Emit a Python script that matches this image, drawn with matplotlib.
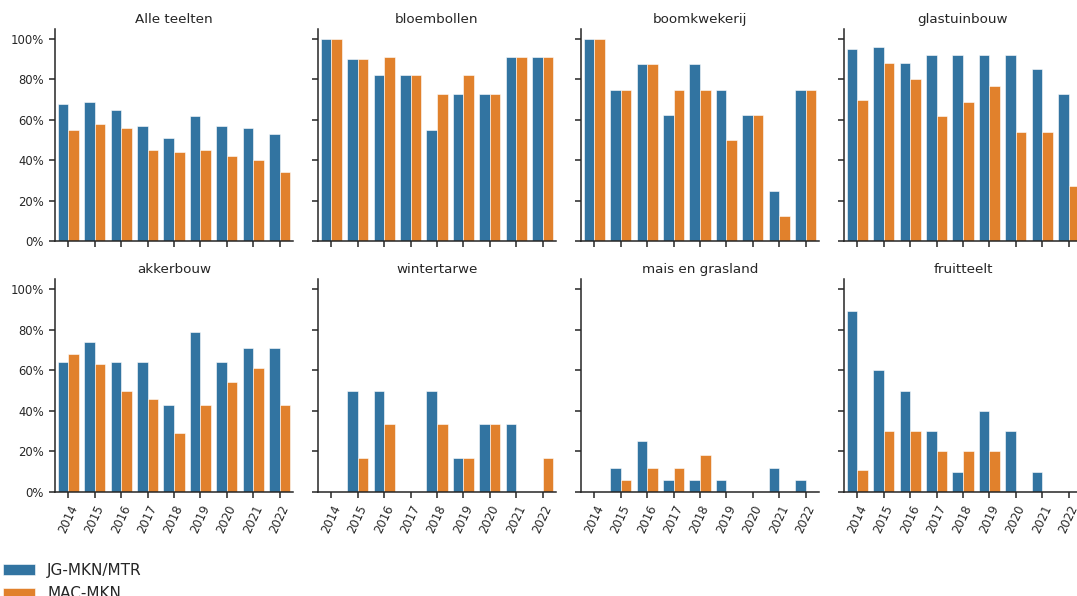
import matplotlib.pyplot as plt
import numpy as np
from matplotlib.ticker import PercentFormatter

years = ['2014', '2015', '2016', '2017', '2018', '2019', '2020', '2021', '2022']
teelten = ['Alle teelten', 'bloembollen', 'boomkwekerij', 'glastuinbouw',
           'akkerbouw', 'wintertarwe', 'mais en grasland', 'fruitteelt']
series = ['JG-MKN/MTR', 'MAC-MKN']

# percentage of sites exceeding the norm, per teelt
jg_alle = [68, 69, 65, 57, 51, 62, 57, 56, 53]
mac_alle = [55, 58, 56, 45, 44, 45, 42, 40, 34]
jg_bloembollen = [100, 90, 82, 82, 55, 73, 73, 91, 91]
mac_bloembollen = [100, 90, 91, 82, 73, 82, 73, 91, 91]
jg_boomkwekerij = [100, 75, 87.5, 62.5, 87.5, 75, 62.5, 25, 75]
mac_boomkwekerij = [100, 75, 87.5, 75, 75, 50, 62.5, 12.5, 75]
jg_glastuinbouw = [95, 96, 88, 92, 92, 92, 92, 85, 73]
mac_glastuinbouw = [70, 88, 80, 62, 69, 77, 54, 54, 27]
jg_akkerbouw = [64, 74, 64, 64, 43, 79, 64, 71, 71]
mac_akkerbouw = [68, 63, 50, 46, 29, 43, 54, 61, 43]
jg_wintertarwe = [0, 50, 50, 0, 50, 16.7, 33.3, 33.3, 0]
mac_wintertarwe = [0, 16.7, 33.3, 0, 33.3, 16.7, 33.3, 0, 16.7]
jg_mais = [0, 12, 25, 6, 6, 6, 0, 12, 6]
mac_mais = [0, 6, 12, 12, 18, 0, 0, 0, 0]
jg_fruit = [89, 60, 50, 30, 10, 40, 30, 10, 0]
mac_fruit = [11, 30, 30, 20, 20, 20, 0, 0, 0]

jg_all = [jg_alle, jg_bloembollen, jg_boomkwekerij, jg_glastuinbouw,
          jg_akkerbouw, jg_wintertarwe, jg_mais, jg_fruit]
mac_all = [mac_alle, mac_bloembollen, mac_boomkwekerij, mac_glastuinbouw,
           mac_akkerbouw, mac_wintertarwe, mac_mais, mac_fruit]

blue = '#3274a1'
orange = '#e1812c'
txt = '#262626'

W, H = 1077, 596
fig = plt.figure(figsize=(W / 100, H / 100), dpi=100)

col_left = [55, 318, 581, 844]
row_box = [(29, 241), (279, 492)]
ax_w = 238

x = np.arange(len(years))
bw = 0.4
axes = []
for i, name in enumerate(teelten):
    r, c = divmod(i, 4)
    top, bot = row_box[r]
    ax = fig.add_axes([col_left[c] / W, 1 - bot / H, ax_w / W, (bot - top) / H])
    axes.append(ax)
    ax.bar(x - bw / 2, jg_all[i], bw, color=blue, edgecolor='white', linewidth=0.4, label=series[0])
    ax.bar(x + bw / 2, mac_all[i], bw, color=orange, edgecolor='white', linewidth=0.4, label=series[1])
    ax.set_xlim(-0.5, 8.5)
    ax.set_ylim(0, 105)
    ax.set_yticks([0, 20, 40, 60, 80, 100])
    ax.yaxis.set_major_formatter(PercentFormatter(100, decimals=0))
    ax.set_xticks(x)
    ax.spines['top'].set_visible(False)
    ax.spines['right'].set_visible(False)
    for s in ['left', 'bottom']:
        ax.spines[s].set_linewidth(1.1)
        ax.spines[s].set_color(txt)
    ax.tick_params(length=4.5, width=1.1, color=txt, labelcolor=txt, labelsize=8.4)
    ax.set_title(name, fontsize=9.7, color=txt, pad=4)
    if c != 0:
        ax.tick_params(axis='y', labelleft=False)
    if r == 0:
        ax.tick_params(axis='x', labelbottom=False)
    else:
        ax.set_xticklabels(years, rotation=65, ha='right', rotation_mode='anchor')

h, l = axes[0].get_legend_handles_labels()
fig.legend(h, l, loc='upper left', bbox_to_anchor=(3 / W, 1 - 563 / H),
           frameon=False, fontsize=11, handlelength=2.1, handleheight=0.7,
           handletextpad=0.8, labelspacing=0.55, borderpad=0, borderaxespad=0,
           labelcolor=txt)

fig.savefig('out.png', dpi=100)
